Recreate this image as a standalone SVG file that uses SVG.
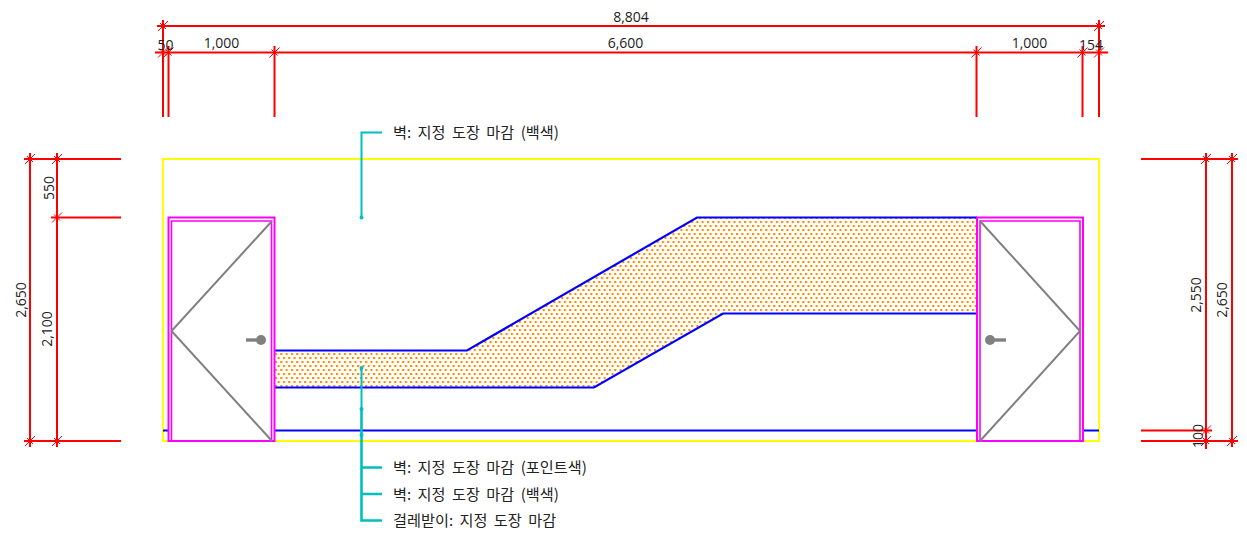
<svg xmlns="http://www.w3.org/2000/svg" width="1247" height="541" viewBox="0 0 1247 541">
<style>
text{font-family:"Open Sans","Noto Sans CJK KR","Noto Sans",sans-serif;font-size:14px;fill:#222}
.c{text-anchor:middle}
.cjk{font-family:"Noto Sans CJK KR","Open Sans",sans-serif;font-size:15.2px;word-spacing:3px}
.dim{stroke:#f00;stroke-width:2;fill:none}
.tick{stroke:#f00;stroke-width:1;fill:none}
.mag{stroke:#f0f;stroke-width:2;fill:none}
.mag2{stroke:#f0f;stroke-width:1.6;fill:none}
.blue{stroke:#00f;stroke-width:2.2;fill:none}
.wall{stroke:#00f;stroke-width:2;fill:none}
.gray{stroke:#808080;stroke-width:2;fill:none}
.grip{stroke:#808080;stroke-width:3.4;fill:none}
.lead{stroke:#00bfbf;stroke-width:2;fill:none}
.lead2{stroke:#00bfbf;stroke-width:2.6;fill:none}
.dot{fill:#00bfbf}
</style>
<defs>
<pattern id="dots" width="5.3" height="8" patternUnits="userSpaceOnUse" x="275" y="352">
<rect x="0" y="1" width="2.1" height="2.1" fill="#ff8c00"/>
<rect x="2.65" y="5" width="2.1" height="2.1" fill="#ff8c00"/>
</pattern>
<g id="tk"><path class="tick" d="M-5 5L5 -5M-3 -3L3 3"/></g>
</defs>
<g id="outline"><rect x="163" y="159" width="936" height="282" fill="none" stroke="#ff0" stroke-width="2"/></g>
<g id="wall-line"><path class="wall" d="M163 430.500H169M275 430.500H977M1083 430.500H1099"/></g>
<g id="finish-band">
<path d="M275 350.500H467L697 217.500H977V313.500H723L594 387.500H275Z" fill="url(#dots)"/>
<path class="blue" d="M275 350.500H467L697 217.500H977M977 313.500H723L594 387.500H275"/>
</g>
<g id="door-left">
<rect class="mag" x="168.500" y="217.500" width="106" height="223.500"/>
<path class="mag2" d="M171.500 441V221H271.500V441"/>
<path class="gray" d="M272 221L171.500 331L272 441"/>
<path class="grip" d="M246 340H258"/><circle cx="261" cy="340" r="5" fill="#808080"/>
</g>
<g id="door-right">
<rect class="mag" x="977" y="217.500" width="106" height="223.500"/>
<path class="mag2" d="M980 441V221H1080V441"/>
<path class="gray" d="M980 221L1080 331L980 441"/>
<path class="grip" d="M994 340H1006"/><circle cx="990" cy="340" r="5" fill="#808080"/>
</g>
<g id="connectors">
<path class="dim" d="M157 26H1105M155 52.500H1108M163 20V117M168.500 46V117M274.500 46V117M976.500 46V117M1082.500 46V117M1099 20V117"/>
<path class="dim" d="M24 159H121M51 217.500H121M24 441H121M30 153V447M57 153V447"/>
<path class="dim" d="M1141 159H1238M1141 430.500H1212M1141 441H1238M1206 153V449M1232 153V447"/>
<use href="#tk" x="163" y="26"/><use href="#tk" x="1099" y="26"/>
<use href="#tk" x="163" y="52.500"/><use href="#tk" x="168.500" y="52.500"/><use href="#tk" x="274.500" y="52.500"/><use href="#tk" x="976.500" y="52.500"/><use href="#tk" x="1082.500" y="52.500"/><use href="#tk" x="1099" y="52.500"/>
<use href="#tk" x="30" y="159"/><use href="#tk" x="57" y="159"/><use href="#tk" x="57" y="217.500"/><use href="#tk" x="30" y="441"/><use href="#tk" x="57" y="441"/>
<use href="#tk" x="1206" y="159"/><use href="#tk" x="1232" y="159"/><use href="#tk" x="1206" y="430.500"/><use href="#tk" x="1206" y="441"/><use href="#tk" x="1232" y="441"/>
<path class="lead" d="M382 132.500H361.500V217.500"/>
<path class="lead" d="M361.500 368V409"/>
<path class="lead2" d="M361.500 409V520.500H382M361.500 494H382M361.500 467.500H382"/>
<circle class="dot" cx="361.500" cy="217.500" r="2"/><circle class="dot" cx="361.500" cy="368" r="2"/><circle class="dot" cx="361.500" cy="409" r="2"/><circle class="dot" cx="361.500" cy="435" r="2"/>
</g>
<g id="dimension-labels">
<text class="c" x="631" y="22">8,804</text>
<text class="c" x="165.500" y="50">50</text>
<text class="c" x="221.500" y="48">1,000</text>
<text class="c" x="625.500" y="48">6,600</text>
<text class="c" x="1029.500" y="48">1,000</text>
<text class="c" x="1091" y="50">154</text>
<text class="c" transform="translate(54 188) rotate(-90)">550</text>
<text class="c" transform="translate(26 300) rotate(-90)">2,650</text>
<text class="c" transform="translate(52 329) rotate(-90)">2,100</text>
<text class="c" transform="translate(1201 295) rotate(-90)">2,550</text>
<text class="c" transform="translate(1227 300) rotate(-90)">2,650</text>
<text class="c" transform="translate(1203 436) rotate(-90)">100</text>
</g>
<g id="leader-labels">
<text class="cjk" x="393" y="137.500">벽: 지정 도장 마감 (백색)</text>
<text class="cjk" x="393" y="472.500">벽: 지정 도장 마감 (포인트색)</text>
<text class="cjk" x="393" y="499.500">벽: 지정 도장 마감 (백색)</text>
<text class="cjk" x="393" y="525.500">걸레받이: 지정 도장 마감</text>
</g>
</svg>
